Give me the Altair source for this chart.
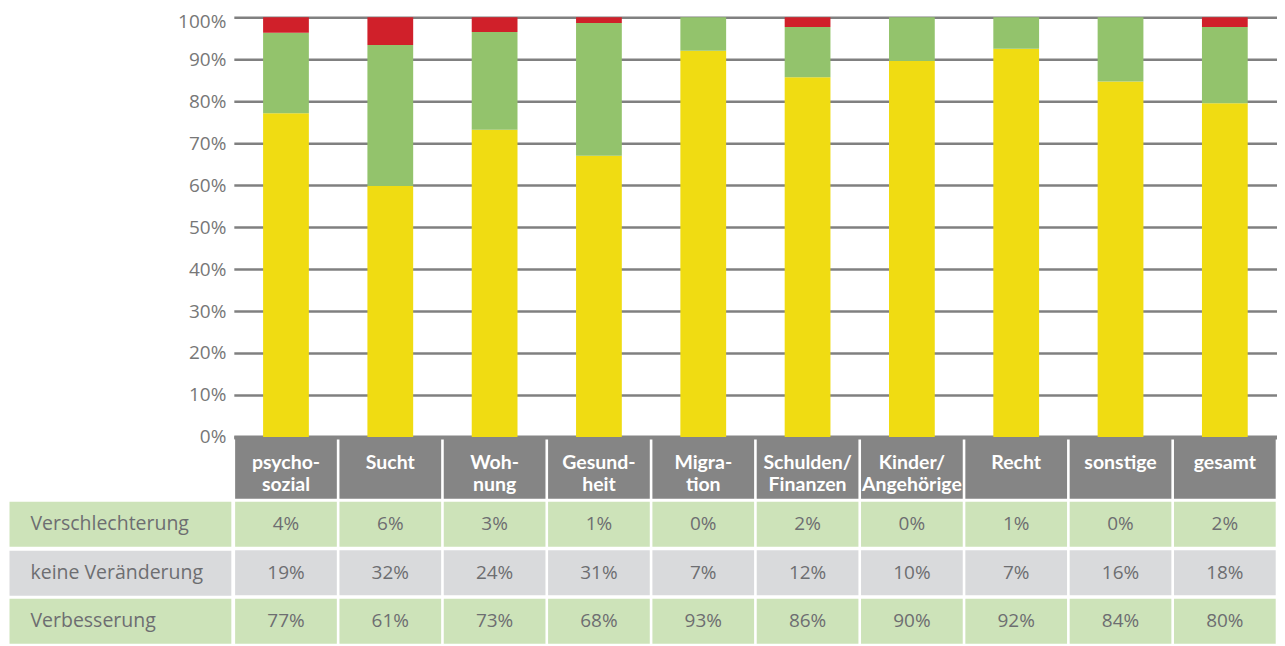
import altair as alt
import pandas as pd

# ---------------- data ----------------
categories = ["psycho-\nsozial", "Sucht", "Woh-\nnung", "Gesund-\nheit", "Migra-\ntion",
              "Schulden/\nFinanzen", "Kinder/\nAngehörige", "Recht", "sonstige", "gesamt"]
statuses = ["Verschlechterung", "keine Veränderung", "Verbesserung"]

# bar segment shares (%)
bar_verbesserung = [77.1, 59.8, 73.2, 67.0, 92.0, 85.7, 89.6, 92.5, 84.7, 79.5]
bar_keine = [19.2, 33.6, 23.3, 31.6, 8.0, 12.0, 10.4, 7.5, 15.3, 18.2]
bar_verschlechterung = [3.7, 6.6, 3.5, 1.4, 0.0, 2.3, 0.0, 0.0, 0.0, 2.3]

# table texts
tab_verschlechterung = ["4%", "6%", "3%", "1%", "0%", "2%", "0%", "1%", "0%", "2%"]
tab_keine = ["19%", "32%", "24%", "31%", "7%", "12%", "10%", "7%", "16%", "18%"]
tab_verbesserung = ["77%", "61%", "73%", "68%", "93%", "86%", "90%", "92%", "84%", "80%"]

y_ticks = [0, 0.1, 0.2, 0.3, 0.4, 0.5, 0.6, 0.7, 0.8, 0.9, 1.0]

# ---------------- tables for the library ----------------
bar_rows = []
for series, status, rank in [(bar_verbesserung, "Verbesserung", 0),
                             (bar_keine, "keine Veränderung", 1),
                             (bar_verschlechterung, "Verschlechterung", 2)]:
    for c, v in zip(categories, series):
        bar_rows.append({"cat": c, "status": status, "value": v, "rank": rank})
bar_df = pd.DataFrame(bar_rows)

head_df = pd.DataFrame({"cat": categories})

tab_rows = []
for series, status in [(tab_verschlechterung, "Verschlechterung"),
                       (tab_keine, "keine Veränderung"),
                       (tab_verbesserung, "Verbesserung")]:
    for c, t in zip(categories, series):
        tab_rows.append({"cat": c, "row": status, "text": t})
tab_df = pd.DataFrame(tab_rows)

# ---------------- styles ----------------
W = 1044
TEXT_GREY = "#6d6e71"
ROW_BAND = 45


def xscale():
    return alt.Scale(domain=categories, paddingInner=0.025, paddingOuter=0.0125)


# ---------------- bar chart ----------------
bars = alt.Chart(bar_df).mark_bar(width=alt.RelativeBandSize(0.45)).encode(
    x=alt.X("cat:N", scale=xscale(), sort=categories,
            axis=alt.Axis(labels=False, ticks=False, title=None, grid=False,
                          domain=True, domainColor="#858585", domainWidth=4)),
    y=alt.Y("value:Q", stack="normalize", scale=alt.Scale(domain=[0, 1], nice=False),
            axis=alt.Axis(format="%", values=y_ticks, title=None, grid=True,
                          gridColor="#808080", gridWidth=2.5, ticks=False, domain=False,
                          labelFont="Open Sans", labelFontSize=19, labelColor="#777777",
                          labelPadding=8, minExtent=225, maxExtent=225,
                          labelOffset={"condition": {"test": "datum.value === 1", "value": 4},
                                       "value": 0})),
    color=alt.Color("status:N", scale=alt.Scale(domain=statuses,
                    range=["#d0202a", "#93c36c", "#f0dc12"]), legend=None),
    order=alt.Order("rank:Q", sort="ascending"),
).properties(width=W, height=420)

# ---------------- header row ----------------
hx = alt.X("cat:N", scale=xscale(), sort=categories, axis=None)
head_cells = alt.Chart(head_df).mark_rect(color="#858585").encode(x=hx)
head_text = alt.Chart(head_df).mark_text(
    lineBreak="\n", font="Lato", fontWeight="bold", fontSize=19.5, color="white",
    baseline="alphabetic", lineHeight=22, dy=1
).encode(x=hx, text="cat:N")
header = (head_cells + head_text).properties(width=W, height=62)

# ---------------- table rows ----------------
tx = alt.X("cat:N", scale=xscale(), sort=categories, axis=None)
ty = alt.Y("row:N", sort=statuses,
           scale=alt.Scale(domain=statuses, paddingInner=0.072, paddingOuter=0),
           axis=alt.Axis(title=None, domain=False, ticks=True, tickSize=222,
                         tickWidth=ROW_BAND, offset=3,
                         tickColor={"condition": {"test": "datum.value === 'keine Veränderung'",
                                                  "value": "#d9dadc"},
                                    "value": "#cde3b9"},
                         labelAlign="left", labelPadding=-21, labelFont="Open Sans",
                         labelFontSize=19.5, labelColor=TEXT_GREY, labelLimit=0,
                         minExtent=225, maxExtent=225))
cells = alt.Chart(tab_df).mark_rect().encode(
    x=tx, y=ty,
    color=alt.Color("row:N", scale=alt.Scale(domain=statuses,
                    range=["#cde3b9", "#d9dadc", "#cde3b9"]), legend=None),
)
vals = alt.Chart(tab_df).mark_text(font="Open Sans", fontSize=19, color=TEXT_GREY).encode(
    x=tx, y=ty, text="text:N")
table = (cells + vals).properties(width=W, height=3 * ROW_BAND + 7)

lower = alt.vconcat(header, table, spacing=3, bounds="flush").resolve_scale(
    x="independent", y="independent", color="independent")

chart = alt.vconcat(bars, lower, spacing=0, bounds="flush").resolve_scale(
    x="independent", y="independent", color="independent"
).properties(
    padding={"left": -22, "top": 4, "right": 0, "bottom": 0}
).configure_view(strokeWidth=0).configure_concat(spacing=0)

chart.save("out.html", embed_options={"renderer": "svg", "actions": False})
